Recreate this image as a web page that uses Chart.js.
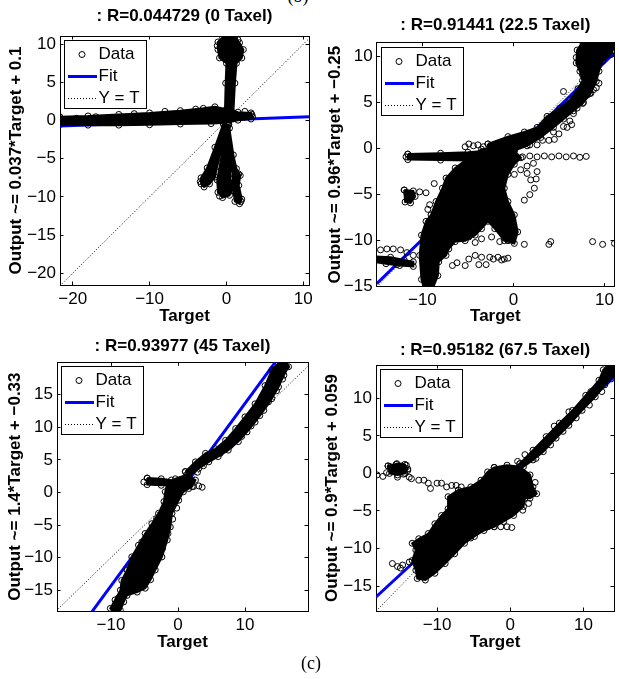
<!DOCTYPE html>
<html lang="en">
<head>
<meta charset="UTF-8">
<title>Regression: Output vs Target per taxel</title>
<script src="https://cdn.jsdelivr.net/npm/chart.js"></script>
<style>
  html, body { margin: 0; padding: 0; background: #fff; }
  body { width: 619px; height: 679px; position: relative; overflow: hidden; }
  canvas { position: absolute; }
  .caption { position: absolute; width: 60px; text-align: center; line-height: 20px;
             font-family: "Liberation Serif", "Times New Roman", serif; font-size: 18px; color: #000; }
</style>
</head>
<body>
<div class="caption" style="left:268px; top:-14px;">(b)</div>
<canvas id="p0" width="320" height="330" style="left:0; top:0;"></canvas>
<canvas id="p1" width="301" height="330" style="left:318px; top:0;"></canvas>
<canvas id="p2" width="320" height="332" style="left:0; top:325px;"></canvas>
<canvas id="p3" width="301" height="332" style="left:318px; top:325px;"></canvas>
<div class="caption" style="left:281px; top:653px;">(c)</div>
<script>
// regression results for each taxel count
const titles = [': R=0.044729 (0 Taxel)', ': R=0.91441 (22.5 Taxel)', ': R=0.93977 (45 Taxel)', ': R=0.95182 (67.5 Taxel)'];
const fitSlope = [0.037, 0.96, 1.4, 0.9];
const fitIntercept = [0.1, -0.25, -0.33, 0.059];

// [target, output] pairs. "Dense" entries outline regions packed solid with samples,
// "sparse" entries are the individual stray samples.
const taxel0Dense = [
  [[-21.7,0.5],[-18,0.6],[-14,0.8],[-10,1.0],[-6,1.3],[-3,1.6],[-1.5,1.8],[0,1.5],[1.5,1.1],[3.2,1.0],[3.4,0.5],[3.2,0.2],[1.5,0.05],[0,-0.3],[-2,-0.4],[-6,-0.45],[-10,-0.55],[-14,-0.6],[-18,-0.6],[-21.7,-0.55]],
  [[-0.2,1.0],[-0.1,4.9],[0,7.5],[-0.9,8.2],[-1.1,9.3],[-1.1,10.3],[-0.5,10.9],[0.4,11.4],[1.1,11.0],[1.7,10.2],[2.2,9.3],[2.0,8.2],[1.3,7.5],[1.1,4.9],[0.9,1.0]],
  [[-0.4,-0.4],[-1.5,-3.5],[-2.5,-6.2],[-3.3,-7.5],[-3.3,-8.3],[-2.9,-8.7],[-2.2,-8.3],[-1.5,-7.4],[-1.2,-6],[-0.6,-3.5],[0.2,-0.6]],
  [[-0.2,-1],[-0.7,-5],[-1.2,-7.8],[-1.1,-9.4],[-0.5,-10.1],[0.4,-9.8],[0.8,-9],[0.5,-7.5],[0.4,-4],[0.4,-1]],
  [[0.3,-0.5],[0.9,-4.5],[1.3,-6.3],[1.8,-7.2],[1.6,-8.5],[2.0,-10.3],[1.7,-10.9],[1.1,-10.6],[0.9,-9.2],[0.8,-7],[0.3,-4.5],[-0.1,-0.8]]
];
const taxel0Sparse = [[-21.2,0.1],[-19.5,0.3],[-17,0.5],[-12,0.9],[-8,1.2],[-4,1.5],[2.4,1.2],[3.3,0.8],[-1.2,9.8],[0.1,11.2],[1.5,10.6],[-3.4,-8.0],[-0.9,-9.9],[1.9,-10.6],[1.6,-7.0]];

const taxel22Dense = [
  [[-2.8,0.5],[-0.6,1.3],[1.2,1.8],[2.6,2.3],[3.7,3.5],[5.1,4.4],[6.2,5.3],[7.1,6.5],[7.6,7.4],[7.3,8.4],[6.9,9.3],[7.0,10.7],[7.6,11.6],[9.4,11.8],[10.9,11.6],[11.1,11.1],[10.7,10.2],[9.8,9.5],[9.4,8.4],[9.1,7.3],[8.5,6.0],[7.6,4.9],[6.6,4.1],[5.5,3.2],[4.4,2.3],[3.0,1.2],[1.5,0.3],[0.1,-0.2],[-1.3,-0.4],[-2.8,-0.5]],
  [[-11.6,-0.6],[-8,-0.5],[-5,-0.4],[-2.5,-0.2],[0,-0.3],[0,-1.2],[-2.5,-1.3],[-5,-1.3],[-8,-1.25],[-11.6,-1.2]],
  [[-2.05,0.1],[-3.5,-0.07],[-4.9,-1.0],[-6.4,-2.1],[-7.4,-3.2],[-7.8,-4.3],[-8.5,-5.75],[-9.05,-7.2],[-9.6,-7.9],[-10.1,-9.4],[-10.3,-11.6],[-10.1,-14.2],[-9.8,-15.3],[-8.9,-15.3],[-8.3,-13.8],[-8.2,-12.3],[-7.4,-11.6],[-7.1,-10.9],[-6.4,-10.1],[-5.3,-10],[-4.2,-9.4],[-3.5,-8.7],[-2.8,-7.9],[-2.05,-8.7],[-1.0,-10],[0.1,-10.3],[0.47,-9.05],[0.1,-7.2],[-0.6,-5.75],[-1.0,-4.3],[-0.6,-2.8],[0.1,-1.7],[0.83,-1.0],[0.1,-0.26]],
  [[-15.4,-11.7],[-13.5,-11.8],[-12,-12.1],[-11,-12.3],[-11,-12.8],[-12.5,-12.7],[-14,-12.5],[-15.4,-12.3]],
  [[-12.0,-4.5],[-11.0,-4.6],[-10.8,-5.2],[-11.3,-5.9],[-11.9,-5.8]]
];
const taxel22Sparse = [
  [3.2,0.9],[3.9,0.9],[4.5,1.0],[4.4,1.8],[5.0,1.6],[5.5,2.4],[5.9,2.3],[6.2,3.0],[6.6,3.8],[6.4,2.6],[7.0,4.4],[7.3,5.0],[7.7,5.0],[8.1,5.8],[8.4,6.0],[8.8,6.4],[9.1,6.6],[9.4,7.1],[5.5,6.2],[7.6,8.0],[7.3,9.1],[8.2,9.8],[6.9,9.9],[2.6,0.4],[1.8,0.4],
  [1.0,-0.9],[1.8,-0.8],[2.6,-0.9],[3.4,-0.8],[4.2,-0.9],[5.0,-0.8],[5.8,-0.9],[6.6,-0.8],[7.3,-0.95],[8.0,-0.85],[-11.8,-0.9],
  [-4.9,0.5],[-4.4,0.3],[-3.9,0.4],[-3.3,0.2],[-5.3,0.2],
  [1.2,-10.4],[4.1,-10.1],[3.9,-10.4],[8.7,-10.1],[9.8,-10.4],[11.1,-10.3],
  [-6.7,-12.7],[-6.2,-12.4],[-5.3,-12.7],[-4.9,-12.0],[-4.2,-11.6],[-3.8,-12.6],[-3.5,-11.8],[-3.0,-12.6],[-2.6,-11.8],[-2.2,-12.0],[-1.7,-11.8],[-1.3,-12.1],[-1.0,-12.0],[-0.6,-11.9],
  [-5.6,-9.8],[-4.9,-9.6],[-4.2,-10.2],[-3.5,-9.8],[-2.4,-9.6],[-1.5,-10.1],[-0.6,-10.0],
  [0.1,-2.8],[0.8,-2.3],[1.5,-1.9],[2.2,-1.6],[2.6,-2.5],[2.5,-3.3],[2.3,-4.3],[1.8,-5.0],[1.2,-5.6],[1.5,-2.7],[1.9,-3.4],
  [-7.1,-7.6],[-6.4,-8.3],[-8.7,-3.8],[-9.4,-6.6],
  [-14.6,-11.0],[-13.9,-10.9],[-13.2,-10.9],[-12.4,-11.0],[-11.7,-11.3],[-11.0,-11.6],[-12.8,-12.6],[-15.2,-12.0],[-15.5,-11.6],
  [-10.3,-4.7],[-9.6,-4.8],[-9.2,-6.1]
];

const taxel45Dense = [
  [[1.1,3.2],[2.6,4.7],[4.1,6.0],[5.6,6.7],[7.1,8.0],[8.6,9.8],[10.0,11.6],[11.5,13.6],[13.0,16.4],[14.0,18.8],[15.0,19.8],[16.0,20.2],[16.5,19.3],[15.8,18.0],[15.0,16.2],[14.0,14.4],[12.8,12.6],[11.5,10.8],[10.3,9.3],[9.0,7.8],[7.5,6.5],[6.0,5.5],[4.6,4.7],[3.1,3.7],[1.6,2.4]],
  [[-1.6,1.4],[-0.4,2.1],[1.3,2.7],[2.6,1.9],[2.1,0.9],[0.8,0.1],[0.1,-1.2],[-0.9,-3.2],[-1.15,-5.3],[-1.6,-7.3],[-2.4,-9.9],[-3.4,-11.9],[-4.1,-13.4],[-4.9,-14.7],[-6.1,-15.3],[-7.6,-15.8],[-8.1,-16.8],[-8.6,-18.1],[-9.4,-18.6],[-10.1,-17.8],[-9.4,-16.5],[-8.6,-15.0],[-8.4,-13.5],[-7.6,-11.9],[-6.9,-9.9],[-5.9,-8.1],[-4.9,-6.3],[-3.9,-4.8],[-2.9,-3.2],[-2.1,-1.4],[-1.9,0.1]],
  [[-4.6,2.2],[-2.5,2.1],[-1,1.9],[-0.5,1.2],[-2.5,1.1],[-4.6,1.2]]
];
const taxel45Sparse = [
  [-5.1,1.6],[0.6,0.9],[1.6,0.6],[2.3,0.9],[3.1,1.0],[3.6,0.8],[1.8,1.4],
  [-9.7,-18.5],[-8.9,-16.2],[-7.9,-14.2],[-6.9,-11],[-5.4,-7.6],[-3.2,-4],[-2.3,-8.6],[-1.5,-6.3],[-0.8,-4.1],[-0.2,-2.4],
  [1.7,2.2],[2.9,3.1],[3.8,4.1],[4.8,5.3],[6.3,6.0],[7.8,7.2],[9.5,8.6],[10.9,10.2],[12.2,11.8],[13.5,13.9],[14.7,15.6],[15.6,17.4],[16.2,19.3],[15.4,19.8]
];

const taxel67Dense = [
  [[1.3,1.3],[3.1,3.1],[4.9,4.9],[6.7,6.7],[8.5,8.4],[10.3,10.4],[12.1,12.4],[12.7,13.8],[13.4,14.4],[14.2,14.8],[14.2,13.1],[12.9,11.8],[11.6,10.2],[9.8,8.4],[8.0,6.4],[6.25,4.7],[4.5,2.9],[3.1,1.8],[1.8,0.9]],
  [[-2.2,0.8],[-0.45,1.1],[1.3,0.9],[2.7,-0.2],[3.1,-1.8],[3.6,-2.7],[2.7,-3.3],[2.0,-3.3],[1.8,-4.4],[0.45,-5.6],[-0.9,-6.4],[-2.2,-7.1],[-3.6,-7.6],[-4.9,-8.4],[-6.25,-9.3],[-7.6,-10.7],[-8.9,-12],[-10.3,-13.3],[-11.6,-14.2],[-12.7,-14],[-12.9,-12.9],[-13.4,-11.6],[-12.9,-10.2],[-13.4,-9.3],[-12.5,-8.7],[-11.2,-8.0],[-10.3,-6.7],[-9.4,-5.6],[-8.5,-4.7],[-8.5,-3.1],[-7.1,-2.2],[-5.4,-1.8],[-4.0,-0.9],[-3.1,0.2]],
  [[-16.7,1.0],[-15.5,1.3],[-14.4,1.2],[-14.0,0.6],[-14.4,0.0],[-15.4,-0.2],[-16.5,0.0]]
];
const taxel67Sparse = [
  [-18.2,-0.2],[-17.4,-0.4],[-16.9,0.1],[-16.4,0.9],[-15.6,1.2],[-14.9,1.0],[-14.2,1.1],[-14.0,0.4],[-14.6,-0.1],[-15.8,0.3],[-15.4,-0.5],[-13.8,-0.5],
  [-13.5,-0.7],[-12.5,-0.9],[-11.8,-0.9],[-11.2,-1.3],[-10.9,-2.0],[-10.0,-1.3],[-9.4,-1.3],[-8.7,-1.8],[-8.0,-1.6],[-7.4,-1.6],[-6.7,-1.8],
  [-16.1,-12.0],[-15.4,-12.4],[-14.7,-12.2],[-13.8,-11.8],[-12.9,-11.6],[-15.0,-12.6],
  [-9.4,-10.2],[-8.5,-9.8],[-7.6,-9.3],[-6.7,-8.9],[-5.8,-8.2],[-4.9,-7.8],[-4.0,-7.3],[-3.1,-7.1],[-2.2,-7.1],[-1.3,-7.1],[-0.45,-7.1],[0.2,-7.2],[-8.0,-9.9],[-7.1,-9.6],[-5.4,-8.6],
  [2.2,-1.8],[3.1,-2.7],[3.4,-1.2],[2.5,-4.0],[1.7,-4.9],
  [1.0,1.6],[2.0,2.5],[3.5,2.0],[5.5,3.8],[7.2,5.6],[9.0,7.4],[10.8,9.1],[12.5,10.9],[13.8,12.6],[6.0,6.3],[8.0,8.2],[11.0,10.9]
];

// panel layout: axis limits and the size of the boxes around each plot area
const panels = [
  { canvas: 'p0', dense: taxel0Dense, sparse: taxel0Sparse, x: [-21.65, 10.74], y: [-21.55, 11.08],
    margin: { left: 60, top: 36, right: 11, bottom: 45 }, titleTop: 6.2, yTitlePad: 6.6, xTitlePad: 3.0 },
  { canvas: 'p1', dense: taxel22Dense, sparse: taxel22Sparse, x: [-15.02, 11.05], y: [-15.0, 11.5],
    margin: { left: 58.7, top: 42.7, right: 0.4, bottom: 43.3 }, titleTop: 15.0, yTitlePad: 7.5, xTitlePad: 3.0 },
  { canvas: 'p2', dense: taxel45Dense, sparse: taxel45Sparse, x: [-18.06, 19.4], y: [-18.2, 19.98],
    margin: { left: 57, top: 37.3, right: 12, bottom: 46 }, titleTop: 11.6, yTitlePad: 5.0, xTitlePad: 4.0 },
  { canvas: 'p3', dense: taxel67Dense, sparse: taxel67Sparse, x: [-18.34, 14.16], y: [-18.32, 14.44],
    margin: { left: 58, top: 40, right: 0.7, bottom: 46 }, titleTop: 15.5, yTitlePad: 4.0, xTitlePad: 4.0 }
];

const FONT = 'Arial, "Liberation Sans", Helvetica, sans-serif';
Chart.defaults.font.family = FONT;
Chart.defaults.color = '#000';

const minus = v => String(v).replace('-', '\u2212');
const pts = arr => arr.map(([x, y]) => ({ x, y }));

// legend drawn in a framed box in the upper-left corner of the plot area
const boxLegend = {
  id: 'boxLegend',
  afterDatasetsDraw(chart) {
    const { ctx, chartArea: a } = chart;
    const items = chart.data.datasets.filter(d => d.label);
    const x = Math.round(a.left) + 4, y = Math.round(a.top) + 4;
    ctx.save();
    ctx.fillStyle = '#fff';
    ctx.fillRect(x, y, 82, 68);
    ctx.strokeStyle = '#000';
    ctx.lineWidth = 1;
    ctx.strokeRect(x + 0.5, y + 0.5, 82, 68);
    ctx.font = '17px ' + FONT;
    ctx.textBaseline = 'middle';
    items.forEach((d, i) => {
      const cy = Math.round(y + 13.5 + i * 22.1) + 0.5;
      ctx.strokeStyle = d.borderColor;
      ctx.lineWidth = d.borderWidth;
      ctx.beginPath();
      if (d.type === 'scatter') {
        ctx.arc(x + 18, cy, d.pointRadius, 0, 2 * Math.PI);
      } else {
        ctx.setLineDash(d.borderDash || []);
        ctx.moveTo(x + 4, cy);
        ctx.lineTo(x + 33, cy);
      }
      ctx.stroke();
      ctx.setLineDash([]);
      ctx.fillStyle = '#000';
      ctx.fillText(d.label, x + 34.5, cy);
    });
    ctx.restore();
  }
};

function axis(position, range, step, size, extra) {
  const horizontal = position === 'top' || position === 'bottom';
  return Object.assign({
    type: 'linear', position, min: range[0], max: range[1],
    ticks: { stepSize: step, includeBounds: false, autoSkip: false, maxRotation: 0,
             padding: horizontal ? 7.3 : 7.5, color: '#000', font: { size: 17 }, callback: v => minus(v) },
    grid: { drawOnChartArea: false, tickLength: -3.5, color: '#000', tickColor: '#000', tickWidth: 1 },
    border: { color: '#000', width: 1 },
    afterFit(s) {
      if (horizontal) { s.height = size; s.paddingLeft = 0; s.paddingRight = 0; }
      else { s.width = size; s.paddingTop = 0; s.paddingBottom = 0; }
    }
  }, extra);
}

panels.forEach((p, i) => {
  const m = p.margin;
  const lo = Math.min(p.x[0], p.y[0]), hi = Math.max(p.x[1], p.y[1]);
  const datasets = [
    { type: 'scatter', label: 'Data', data: pts(p.sparse), pointRadius: 3, borderWidth: 1,
      borderColor: '#000', backgroundColor: 'rgba(0,0,0,0)', order: 0 }
  ];
  p.dense.forEach(poly => datasets.push({
    type: 'line', data: pts(poly.concat([poly[0]])), fill: 'shape', tension: 0,
    backgroundColor: '#000', borderColor: '#000', borderWidth: 2,
    pointRadius: 3, pointBorderWidth: 1, pointBorderColor: '#000', pointBackgroundColor: 'rgba(0,0,0,0)', order: 0
  }));
  datasets.push({
    type: 'line', label: 'Fit', order: 1, borderColor: '#0000ff', borderWidth: 3, pointRadius: 0,
    data: [{ x: p.x[0], y: fitSlope[i] * p.x[0] + fitIntercept[i] }, { x: p.x[1], y: fitSlope[i] * p.x[1] + fitIntercept[i] }]
  });
  datasets.push({
    type: 'line', label: 'Y = T', order: 2, borderColor: '#000', borderWidth: 1, borderDash: [1, 2], pointRadius: 0,
    data: [{ x: lo, y: lo }, { x: hi, y: hi }]
  });

  const yLabel = 'Output ~= ' + minus(fitSlope[i]) + '*Target + ' + minus(fitIntercept[i]);

  new Chart(document.getElementById(p.canvas), {
    type: 'scatter',
    data: { datasets },
    options: {
      responsive: false,
      animation: false,
      devicePixelRatio: 1,
      events: [],
      layout: { padding: 0 },
      plugins: {
        legend: { display: false },
        tooltip: { enabled: false },
        title: { display: true, text: titles[i], fullSize: false, color: '#000',
                 font: { size: 17, weight: 'bold' }, padding: { top: p.titleTop, bottom: 0 } }
      },
      scales: {
        x: axis('bottom', p.x, 10, m.bottom, {
          title: { display: true, text: 'Target', color: '#000', font: { size: 17, weight: 'bold' }, padding: { top: 0, bottom: p.xTitlePad } }
        }),
        y: axis('left', p.y, 5, m.left, {
          title: { display: true, text: yLabel, color: '#000', font: { size: 17, weight: 'bold' }, padding: { top: p.yTitlePad, bottom: 0 } }
        }),
        x2: axis('top', p.x, 10, m.top - (20.4 + p.titleTop), { ticks: { display: false, stepSize: 10, includeBounds: false } }),
        y2: axis('right', p.y, 5, m.right, { ticks: { display: false, stepSize: 5, includeBounds: false } })
      }
    },
    plugins: [boxLegend]
  });
});
</script>
</body>
</html>
